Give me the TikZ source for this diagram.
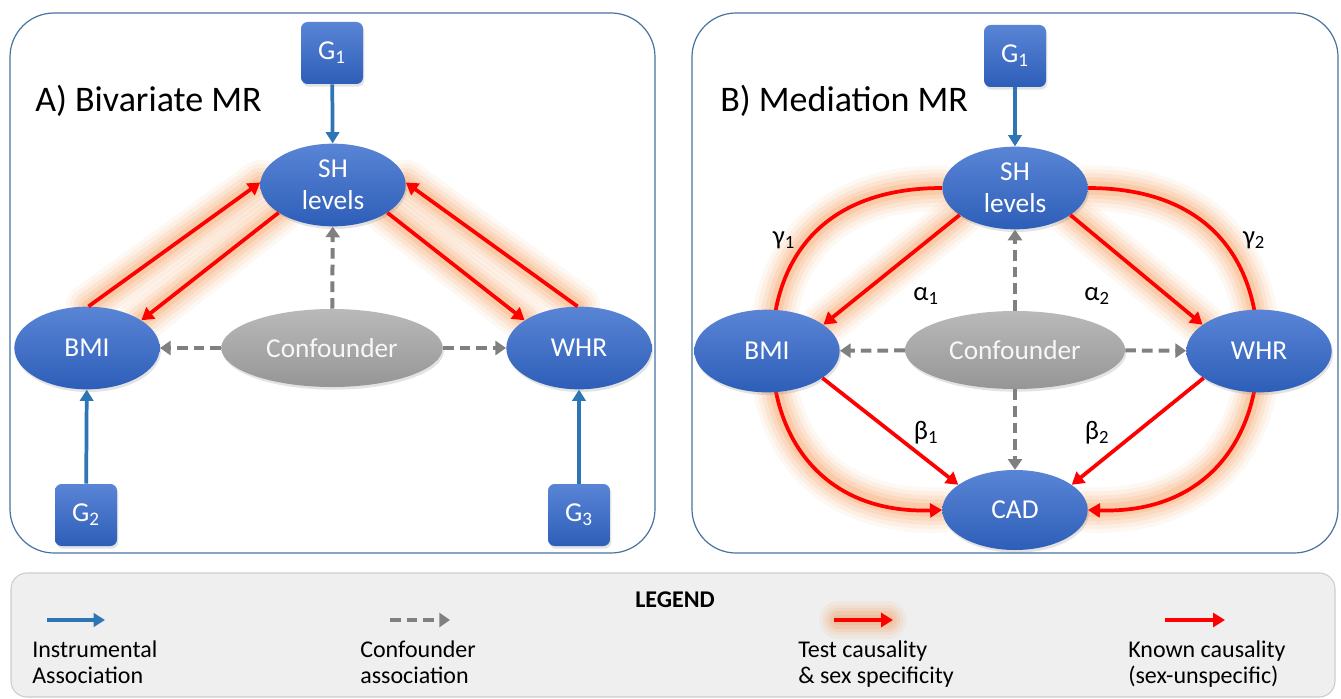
\documentclass[tikz,border=0pt]{standalone}
\usepackage{fontspec}
\setmainfont{Carlito}
\usetikzlibrary{arrows.meta,shapes.geometric,shadows,calc}
\definecolor{bluetop}{RGB}{90,133,214}
\definecolor{bluebot}{RGB}{45,94,184}
\definecolor{grytop}{RGB}{185,185,185}
\definecolor{grybot}{RGB}{150,150,150}
\definecolor{instr}{RGB}{46,117,182}
\definecolor{conf}{RGB}{128,128,128}
\definecolor{caus}{RGB}{255,0,0}
\definecolor{glowc}{RGB}{246,140,60}
\definecolor{panelc}{RGB}{70,115,160}
\definecolor{legfill}{RGB}{239,239,239}
\definecolor{legdraw}{RGB}{205,205,205}
\pgfdeclarelayer{bg}
\pgfsetlayers{bg,main}
\tikzset{
  blueell/.style={ellipse, top color=bluetop, bottom color=bluebot, draw=none, text=white,
    minimum width=109pt, minimum height=62pt, inner sep=0pt,
    font=\fontsize{20.5}{24}\selectfont, align=center,
    drop shadow={opacity=0.22, shadow xshift=1pt, shadow yshift=-2pt}},
  grayell/.style={blueell, top color=grytop, bottom color=grybot,
    minimum width=166pt, minimum height=58.5pt, text=white!94!gray},
  gbox/.style={rectangle, rounded corners=5pt, top color=bluetop, bottom color=bluebot,
    draw=none, text=white, minimum width=46.5pt, minimum height=46.5pt, inner sep=0pt,
    font=\fontsize{20.5}{24}\selectfont,
    drop shadow={opacity=0.22, shadow xshift=1pt, shadow yshift=-2pt}},
  instrarrow/.style={draw=instr, line width=2.8pt, -{Triangle[length=8.5pt,width=10pt]}},
  confarrow/.style={draw=conf, line width=3pt, dash pattern=on 8pt off 4.5pt,
    -{Triangle[length=8pt,width=10.5pt]}},
  causarrow/.style={draw=caus, line width=2.8pt, -{Triangle[length=9pt,width=10.5pt]}},
  panelbox/.style={draw=panelc, line width=0.9pt, rounded corners=33pt},
  title/.style={font=\fontsize{27}{30}\selectfont, anchor=base west, inner sep=0pt},
  coef/.style={font=\fontsize{20}{24}\selectfont, inner sep=0pt},
  legtext/.style={font=\fontsize{18}{19.5}\selectfont, align=left, anchor=north west, inner sep=0pt},
}
\newcommand\glowit[1]{%
  \foreach \gw/\go in {34/0.06,28/0.08,22/0.10,16/0.13,10/0.16}{%
    \draw[line width=\gw pt, draw=glowc, opacity=\go, line cap=round] #1;}}
\begin{document}
\begin{tikzpicture}[x=0.75pt,y=-0.75pt]
\useasboundingbox (0,0) rectangle (1341,699);
\begin{pgfonlayer}{bg}
\fill[white] (0,0) rectangle (1341,699);
\end{pgfonlayer}

% ---------------- Panel A ----------------
\draw[panelbox] (10,13) rectangle (655,553);
\node[title] (tA) at (35,111) {A) Bivariate MR};
\node[gbox] (g1A) at (332,53) {G\textsubscript{1}};
\node[blueell] (shA) at (333,185) {SH\\levels};
\node[blueell] (bmiA) at (87,348) {BMI};
\node[blueell] (whrA) at (579,348) {WHR};
\node[grayell] (cfA) at (332,348) {Confounder};
\node[gbox] (g2A) at (86,515) {G\textsubscript{2}};
\node[gbox] (g3A) at (579,515) {G\textsubscript{3}};

\begin{pgfonlayer}{bg}
\glowit{(bmiA.88) -- (shA.178)}
\glowit{(shA.207) -- (bmiA.27)}
\glowit{(shA.333) -- (whrA.153)}
\glowit{(whrA.92) -- (shA.2)}
\end{pgfonlayer}
\draw[causarrow] (bmiA.88) -- (shA.178);
\draw[causarrow] (shA.207) -- (bmiA.27);
\draw[causarrow] (shA.333) -- (whrA.153);
\draw[causarrow] (whrA.92) -- (shA.2);

\draw[instrarrow] (g1A) -- (shA);
\draw[instrarrow] (g2A) -- (bmiA);
\draw[instrarrow] (g3A) -- (whrA);
\draw[confarrow] (cfA) -- (shA);
\draw[confarrow] (cfA) -- (bmiA);
\draw[confarrow] (cfA) -- (whrA);

% ---------------- Panel B ----------------
\draw[panelbox] (692,13) rectangle (1338,553);
\node[title] (tB) at (720,111) {B) Mediation MR};
\node[gbox] (g1B) at (1015,56) {G\textsubscript{1}};
\node[blueell] (shB) at (1015,188) {SH\\levels};
\node[blueell] (bmiB) at (767,351) {BMI};
\node[blueell] (whrB) at (1259,351) {WHR};
\node[grayell, minimum width=165pt] (cfB) at (1015,350) {Confounder};
\node[blueell, minimum height=60pt] (cadB) at (1015,510) {CAD};
\coordinate (gL) at (772,351);
\coordinate (gR) at (1258,351);

\begin{pgfonlayer}{bg}
\glowit{(shB.180) .. controls (820,188) and (772,262) .. (gL) .. controls (772,440) and (825,514) .. (cadB.180)}
\glowit{(shB.0) .. controls (1210,188) and (1258,262) .. (gR) .. controls (1258,440) and (1205,514) .. (cadB.0)}
\glowit{(shB.206) -- (bmiB.25)}
\glowit{(shB.334) -- (whrB.155)}
\draw[causarrow] (shB.180) .. controls (820,188) and (772,262) .. (gL) .. controls (772,440) and (825,514) .. (cadB.180);
\draw[causarrow] (shB.0) .. controls (1210,188) and (1258,262) .. (gR) .. controls (1258,440) and (1205,514) .. (cadB.0);
\end{pgfonlayer}
\draw[causarrow] (shB.206) -- (bmiB.25);
\draw[causarrow] (shB.334) -- (whrB.155);
\draw[causarrow] (bmiB.334) -- (cadB.156);
\draw[causarrow] (whrB.206) -- (cadB.24);

\draw[instrarrow] (g1B) -- (shB);
\draw[confarrow] (cfB) -- (shB);
\draw[confarrow] (cfB) -- (cadB);
\draw[confarrow] (cfB) -- (bmiB);
\draw[confarrow] (cfB) -- (whrB);

\node[coef] (gam1) at (784,240) {γ\textsubscript{1}};
\node[coef] (gam2) at (1254,240) {γ\textsubscript{2}};
\node[coef] (alp1) at (926,296) {α\textsubscript{1}};
\node[coef] (alp2) at (1097,296) {α\textsubscript{2}};
\node[coef] (bet1) at (926,433) {β\textsubscript{1}};
\node[coef] (bet2) at (1097,433) {β\textsubscript{2}};

% ---------------- Legend ----------------
\draw[draw=legdraw, fill=legfill, line width=0.8pt, rounded corners=12pt] (11,573) rectangle (1335,697);
\node[font=\fontsize{18}{20}\selectfont\bfseries, inner sep=0pt] (leg) at (675,600) {LEGEND};
\coordinate (l1a) at (47,620); \coordinate (l1b) at (105,620);
\coordinate (l2a) at (390,620); \coordinate (l2b) at (450,620);
\coordinate (l3a) at (834,620); \coordinate (l3b) at (893,620);
\coordinate (l4a) at (1165,620); \coordinate (l4b) at (1225,620);
\foreach \gw/\go in {28/0.07,23/0.09,18/0.11,13/0.14,8/0.16}{%
  \draw[glowc, opacity=\go, line width=\gw pt, line cap=round] (838,620) -- (888,620);}
\draw[instrarrow] (l1a) -- (l1b);
\draw[confarrow] (l2a) -- (l2b);
\draw[causarrow] (l3a) -- (l3b);
\draw[causarrow] (l4a) -- (l4b);
\node[legtext] (lt1) at (32,641) {Instrumental\\Association};
\node[legtext] (lt2) at (360,641) {Confounder\\association};
\node[legtext] (lt3) at (798,641) {Test causality\\\& sex specificity};
\node[legtext] (lt4) at (1128,641) {Known causality\\(sex-unspecific)};
\end{tikzpicture}
\end{document}
